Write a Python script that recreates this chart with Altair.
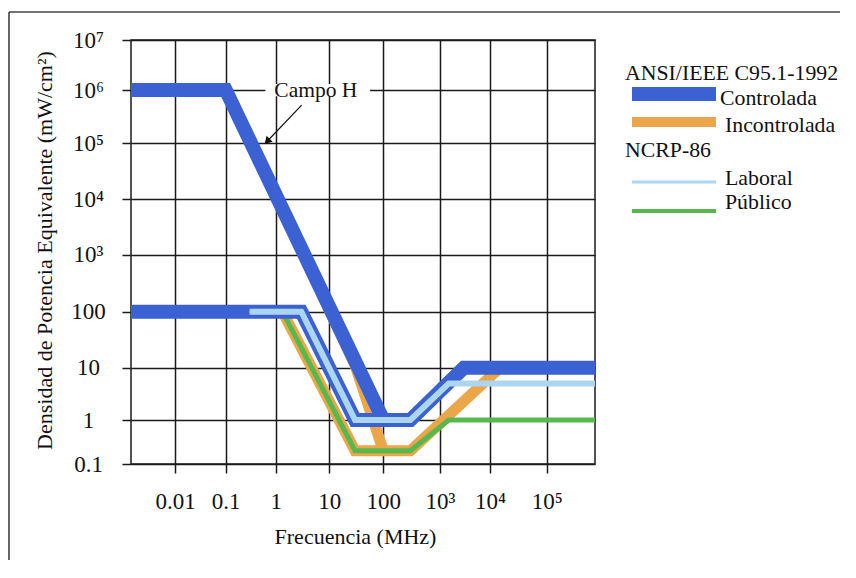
import altair as alt
import pandas as pd

# ---------------- data (frequency in MHz, power density in mW/cm²) ----------------
ctrl_H_freq = [0.001, 0.1, 100]
ctrl_H_dens = [1e6, 1e6, 1]
ctrl_E_freq = [0.001, 3, 30, 300, 3000, 1e6]
ctrl_E_dens = [100, 100, 1, 1, 10, 10]
unc_H_freq = [0.001, 0.1, 30, 100]
unc_H_dens = [1e6, 1e6, 11.1, 0.2]
unc_E_freq = [0.001, 1.34, 30, 300, 15000, 1e6]
unc_E_dens = [100, 100, 0.2, 0.2, 10, 10]
lab_freq = [0.3, 3, 30, 300, 1500, 1e6]
lab_dens = [100, 100, 1, 1, 5, 5]
pub_freq = [0.3, 1.34, 30, 300, 1500, 1e6]
pub_dens = [100, 100, 0.2, 0.2, 1, 1]

x_ticks = [0.01, 0.1, 1, 10, 100, 1000, 10000, 100000]
x_labels = ["0.01", "0.1", "1", "10", "100", "10³", "10⁴", "10⁵"]
y_ticks = [0.1, 1, 10, 100, 1000, 10000, 100000, 1000000, 10000000]
y_labels = ["0.1", "1", "10", "100", "10³", "10⁴", "10⁵", "10⁶", "10⁷"]

legend_head = ["ANSI/IEEE C95.1-1992", "NCRP-86"]
legend_items = ["Controlada", "Incontrolada", "Laboral", "Público"]

annot_text = ["Campo H"]
annot_f = [5.6]
annot_d = [7.4e5]
arrow_f = [3.05, 0.70]
arrow_d = [5.2e5, 1.13e5]

# ---------------- build tables ----------------
def sdf(name, f, d):
    return pd.DataFrame({"serie": name, "f": f, "d": d, "i": list(range(len(f)))})

df = pd.concat([
    sdf("ctrlH", ctrl_H_freq, ctrl_H_dens),
    sdf("ctrlE", ctrl_E_freq, ctrl_E_dens),
    sdf("uncH", unc_H_freq, unc_H_dens),
    sdf("uncE", unc_E_freq, unc_E_dens),
    sdf("lab", lab_freq, lab_dens),
    sdf("pub", pub_freq, pub_dens),
], ignore_index=True)

FONT = "Liberation Serif"
BLUE = "#3b61d3"
ORANGE = "#eca64a"
LBLUE = "#acd6ef"
GREEN = "#56b84e"
INK = "#1a1a1a"

def label_expr(vals, labs):
    e = "''"
    for v, l in reversed(list(zip(vals, labs))):
        e = f"datum.value == {v!r} ? '{l}' : ({e})"
    return e

x_domain = [0.001] + x_ticks + [1e6]
x_range = [0, 44, 94.7, 144.7, 198.3, 252.3, 309, 359, 415.7, 464]
y_range = [424, 380, 327.7, 271.7, 214.5, 159, 103.3, 50, 0]

xs = alt.Scale(type="log", domain=x_domain, range=x_range, nice=False)
ys = alt.Scale(type="log", domain=y_ticks, range=y_range, nice=False)

X = alt.X("f:Q", scale=xs, axis=alt.Axis(
    values=x_ticks, labelExpr=label_expr(x_ticks, x_labels), grid=True,
    gridColor=INK, gridWidth=1.5, gridOpacity=1, domain=False,
    tickColor=INK, tickWidth=1.5, tickSize=9, labelPadding=17,
    labelFont=FONT, labelFontSize=23, labelColor="#111", labelBaseline="top",
    title="Frecuencia (MHz)", titleFont=FONT, titleFontSize=22, titleFontWeight="normal",
    titleColor="#111", titleX=224, titleY=79, titleBaseline="alphabetic", titleAlign="center"))
Y = alt.Y("d:Q", scale=ys, axis=alt.Axis(
    values=y_ticks, labelExpr=label_expr(y_ticks, y_labels), grid=True,
    gridColor=INK, gridWidth=1.5, gridOpacity=1, domain=False,
    tickColor=INK, tickWidth=1.5, tickSize=9, labelPadding=34,
    labelFont=FONT, labelFontSize=23, labelColor="#111", labelAlign="center",
    labelBaseline="middle",
    title="Densidad de Potencia Equivalente (mW/cm²)", titleFont=FONT, titleFontSize=22,
    titleFontWeight="normal", titleColor="#111", titleAngle=-90, titleX=-80, titleY=210,
    titleBaseline="alphabetic", titleAlign="center"))

def line(name, color, width):
    return alt.Chart(df).transform_filter(alt.datum.serie == name).mark_line(
        color=color, strokeWidth=width, strokeJoin="miter", strokeCap="butt", clip=True
    ).encode(x=X, y=Y, order="i:Q")

# annotation
ann = pd.DataFrame({"f": annot_f, "d": annot_d, "t": annot_text})
box = alt.Chart(pd.DataFrame({"f": [0.62], "f2": [57], "d": [1.32e6], "d2": [7.6e5]})).mark_rect(
    color="white").encode(x=X, x2="f2:Q", y=Y, y2="d2:Q")
ann_text = alt.Chart(ann).mark_text(font=FONT, fontSize=21.5, color="#111", align="center",
                                    baseline="alphabetic").encode(x=X, y=Y, text="t:N")
arr = pd.DataFrame({"f": arrow_f, "d": arrow_d, "i": [0, 1]})
arrow = alt.Chart(arr).mark_line(color="#111", strokeWidth=1.2).encode(x=X, y=Y, order="i:Q")
head = alt.Chart(arr.iloc[[1]]).mark_point(shape="triangle", filled=True, color="#111",
                                           opacity=1, size=70, angle=224).encode(x=X, y=Y)

# legend + frame (pixel positions)
one = pd.DataFrame({"k": [0]})

def txt(s, x, y):
    return alt.Chart(one).mark_text(font=FONT, fontSize=21.8, color="#111", align="left",
                                    baseline="alphabetic").encode(
        x=alt.value(x), y=alt.value(y), text=alt.value(s))

def swatch(color, y, w):
    return alt.Chart(one).mark_rule(color=color, strokeWidth=w, strokeCap="butt").encode(
        x=alt.value(501), x2=alt.value(585), y=alt.value(y))

legend = [
    txt(legend_head[0], 494, 40),
    swatch(BLUE, 54, 14), txt(legend_items[0], 589, 65),
    swatch(ORANGE, 82, 10), txt(legend_items[1], 594, 92),
    txt(legend_head[1], 494, 117),
    swatch(LBLUE, 142, 3), txt(legend_items[2], 594, 145),
    swatch(GREEN, 171, 4), txt(legend_items[3], 594, 169),
]

frame_top = alt.Chart(one).mark_rule(color="#444", strokeWidth=1.5).encode(
    x=alt.value(-122), x2=alt.value(709), y=alt.value(-28))
frame_left = alt.Chart(one).mark_rule(color="#333", strokeWidth=1.5).encode(
    x=alt.value(-122), y=alt.value(-28), y2=alt.value(520))

chart = alt.layer(
    box,
    line("uncE", ORANGE, 11),
    line("uncH", ORANGE, 11),
    line("pub", GREEN, 5),
    line("ctrlH", BLUE, 14),
    line("ctrlE", BLUE, 14),
    line("lab", LBLUE, 6),
    ann_text, arrow, head,
    *legend, frame_top, frame_left,
).properties(
    width=464, height=424,
    autosize=alt.AutoSizeParams(type="none"),
    padding={"left": 123, "top": 32, "right": 253, "bottom": 96},
    background="white",
).configure_view(stroke=INK, strokeWidth=1.5)

chart.save("out.html", embed_options={"renderer": "svg", "actions": False})
